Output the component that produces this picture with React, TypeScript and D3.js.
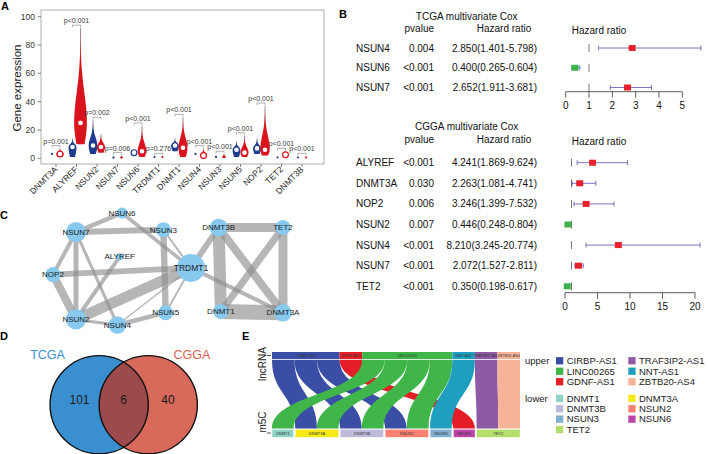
import React from "react";
import * as d3 from "d3";

const FONT = "Arial, 'Liberation Sans', Helvetica, sans-serif";

// ---------- Panel A: expression violins (normal vs tumour)
const genesA = ["DNMT3A", "ALYREF", "NSUN2", "NSUN7", "NSUN6", "TRDMT1", "DNMT1", "NSUN4", "NSUN3", "NSUN5", "NOP2", "TET2", "DNMT3B"];
const normalMin = [2.5, 1, 3, 0, 2, 0.3, 5, 2.5, 0.5, 1, 3, 0.2, 0.2];
const normalMedian = [3, 8, 9, 0.5, 4, 1, 9, 3, 1, 6, 7, 0.5, 0.5];
const normalMax = [4, 14, 27, 1.5, 6, 1.5, 14, 4, 2, 12, 14, 1.5, 1.5];
const tumorMin = [1, 10, 4, 0, 1, 0.3, 1, 1, 0.3, 1, 2, 1, 0.2];
const tumorMedian = [3, 25, 8, 0.5, 5, 1, 7.5, 2, 1, 4, 6, 2.5, 0.5];
const tumorMax = [7, 92, 17, 2, 23, 1.5, 29, 7, 3, 16, 37, 5, 1.5];
const pLabels = ["p=0.001", "p<0.001", "p=0.002", "p=0.006", "p<0.001", "p=0.276", "p<0.001", "p<0.001", "p<0.001", "p<0.001", "p<0.001", "p<0.001", "p<0.001"];

// ---------- Panel B: multivariate Cox
const tcgaGenes = ["NSUN4", "NSUN6", "NSUN7"];
const tcgaP = ["0.004", "<0.001", "<0.001"];
const tcgaHR = [2.85, 0.4, 2.652];
const tcgaLow = [1.401, 0.265, 1.911];
const tcgaHigh = [5.798, 0.604, 3.681];
const cggaGenes = ["ALYREF", "DNMT3A", "NOP2", "NSUN2", "NSUN4", "NSUN7", "TET2"];
const cggaP = ["<0.001", "0.030", "0.006", "0.007", "<0.001", "<0.001", "<0.001"];
const cggaHR = [4.241, 2.263, 3.246, 0.446, 8.21, 2.072, 0.35];
const cggaLow = [1.869, 1.081, 1.399, 0.248, 3.245, 1.527, 0.198];
const cggaHigh = [9.624, 4.741, 7.532, 0.804, 20.774, 2.811, 0.617];

// ---------- Panel C: co-expression network
const netNodes = ["NSUN6", "NSUN7", "NSUN3", "ALYREF", "TRDMT1", "NOP2", "NSUN2", "NSUN5", "NSUN4", "DNMT3B", "TET2", "DNMT1", "DNMT3A"];
const netLayoutX = [0.3, 0.1, 0.48, 0.29, 0.6, 0.0, 0.1, 0.49, 0.28, 0.72, 1.0, 0.73, 1.0];
const netLayoutY = [0.0, 0.17, 0.15, 0.39, 0.49, 0.55, 0.95, 0.89, 1.0, 0.13, 0.13, 0.88, 0.89];
const edgeFrom = ["NSUN7", "NSUN7", "NSUN6", "NSUN3", "NSUN3", "NSUN7", "NSUN7", "NSUN7", "NOP2", "NOP2", "ALYREF", "NSUN2", "NSUN2", "NSUN4", "NSUN4", "NSUN5", "TRDMT1", "TRDMT1", "DNMT3B", "DNMT3B", "DNMT3B", "TET2", "TET2", "DNMT1"];
const edgeTo = ["NSUN6", "NSUN3", "TRDMT1", "TRDMT1", "NSUN5", "NOP2", "NSUN2", "NSUN4", "TRDMT1", "NSUN2", "NSUN2", "TRDMT1", "NSUN4", "TRDMT1", "NSUN5", "TRDMT1", "DNMT3B", "DNMT3A", "TET2", "DNMT1", "DNMT3A", "DNMT1", "DNMT3A", "DNMT3A"];
const edgeWeight = [0.28, 0.38, 0.22, 0.12, 0.4, 0.25, 0.31, 0.19, 0.37, 0.5, 0.25, 0.68, 0.19, 0.08, 0.28, 0.12, 0.37, 0.25, 0.56, 0.75, 0.5, 0.44, 0.56, 0.94];

// ---------- Panel D: Venn
const vennSets = ["TCGA", "CGGA"];
const vennCounts = [101, 6, 40];

// ---------- Panel E: alluvial lncRNA -> m5C
const upperNodes = ["CIRBP-AS1", "GDNF-AS1", "LINC00265", "NNT-AS1", "TRAF3IP2-AS1", "ZBTB20-AS4"];
const upperColors = ["#3b4ea5", "#e41e26", "#3fb54a", "#1f9fc0", "#8f5aa5", "#f7b398"];
const lowerNodes = ["DNMT1", "DNMT3A", "DNMT3B", "NSUN2", "NSUN3", "NSUN6", "TET2"];
const lowerColors = ["#8dd3c7", "#f5ea14", "#bebada", "#fb8072", "#80b1d3", "#bc44a6", "#b3de69"];
const linkSource = ["CIRBP-AS1", "CIRBP-AS1", "CIRBP-AS1", "GDNF-AS1", "LINC00265", "LINC00265", "LINC00265", "LINC00265", "NNT-AS1", "TRAF3IP2-AS1", "ZBTB20-AS4"];
const linkTarget = ["DNMT3A", "DNMT3B", "NSUN2", "NSUN6", "DNMT1", "DNMT3A", "DNMT3B", "NSUN2", "NSUN3", "TET2", "TET2"];
const legendUpper = ["CIRBP-AS1", "TRAF3IP2-AS1", "LINC00265", "NNT-AS1", "GDNF-AS1", "ZBTB20-AS4"];

const NORMAL = "#1d3c8f";
const TUMOR = "#d9141d";

// ---------------------------------------------------------------- A
const yA = d3.scaleLinear().domain([0, 100]).range([158.3, 16.7]);
const xA = d3.scalePoint<string>().domain(genesA).range([56, 302]);

function violinPath(cx: number, lo: number, med: number, hi: number) {
  const spread = hi - lo;
  const half = (3.5 + spread * 0.035) * Math.min(1, spread / 5);
  const sLow = Math.max((med - lo) * 1.5, 0.05);
  const sHigh = Math.max((hi - med) * 0.45, 0.05);
  const width = (v: number) =>
    v < med
      ? half * Math.exp(-(((med - v) / sLow) ** 2))
      : half * Math.exp(-(((v - med) / sHigh) ** 2));
  const steps = d3.range(0, 41).map((i) => lo + (spread * i) / 40);
  return (
    d3
      .area<number>()
      .y((v) => yA(v))
      .x0((v) => cx - width(v))
      .x1((v) => cx + width(v))
      .curve(d3.curveBasis)(steps) ?? ""
  );
}

function Violin({ cx, lo, med, hi, color }: { cx: number; lo: number; med: number; hi: number; color: string }) {
  const big = hi - lo >= 3;
  return (
    <g>
      <line x1={cx} x2={cx} y1={yA(lo)} y2={yA(hi)} stroke="#444" strokeWidth={0.5} />
      <path d={violinPath(cx, lo, med, hi)} fill={color} />
      {big ? (
        <circle cx={cx} cy={yA(med)} r={2.9} fill="#fff" stroke={color} strokeWidth={1.2} />
      ) : (
        <circle cx={cx} cy={yA(med)} r={1} fill={color} opacity={0.8} />
      )}
    </g>
  );
}

function PanelA() {
  return (
    <g>
      <text x={1} y={9.5} fontSize={11} fontWeight="bold">A</text>
      <rect x={41} y={10} width={283} height={154} fill="none" stroke="#999" strokeWidth={0.8} />
      {yA.ticks(5).map((t) => (
        <g key={t}>
          <line x1={37.5} x2={41} y1={yA(t)} y2={yA(t)} stroke="#666" strokeWidth={0.8} />
          <text x={35} y={yA(t)} dy="0.35em" textAnchor="end" fontSize={8.5} fill="#333">{t}</text>
        </g>
      ))}
      <text transform="translate(21,88) rotate(-90)" textAnchor="middle" fontSize={11.5} fill="#222">
        Gene expression
      </text>
      {genesA.map((g, i) => {
        const cx = xA(g)!;
        const b = Math.max(normalMax[i], tumorMax[i]) + 2;
        const yb = yA(b);
        return (
          <g key={g}>
            <Violin cx={cx - 4} lo={normalMin[i]} med={normalMedian[i]} hi={normalMax[i]} color={NORMAL} />
            <Violin cx={cx + 4} lo={tumorMin[i]} med={tumorMedian[i]} hi={tumorMax[i]} color={TUMOR} />
            <path d={`M${cx - 4},${yb + 2}V${yb}H${cx + 4}V${yb + 2}`} fill="none" stroke="#777" strokeWidth={0.6} />
            <text x={cx} y={yb - 2} textAnchor="middle" fontSize={7} fill="#3a3a3a">{pLabels[i]}</text>
            <line x1={cx} x2={cx} y1={164} y2={167} stroke="#666" strokeWidth={0.8} />
            <text transform={`translate(${cx + 2},170) rotate(-45)`} textAnchor="end" fontSize={8.5} fill="#222">{g}</text>
          </g>
        );
      })}
    </g>
  );
}

// ---------------------------------------------------------------- B
interface ForestProps {
  title: string;
  genes: string[];
  pv: string[];
  hr: number[];
  lo: number[];
  hi: number[];
  rows: [number, number];
  titleY: number;
  domainMax: number;
  xRange: [number, number];
  axisY: number;
  nTicks: number;
}

function Forest({ title, genes, pv, hr, lo, hi, rows, titleY, domainMax, xRange, axisY, nTicks }: ForestProps) {
  const rowY = d3.scalePoint<string>().domain(genes).range(rows);
  const x = d3.scaleLinear().domain([0, domainMax]).range(xRange);
  const step = rowY.step();
  const headY = titleY + 12.5;
  const first = rowY(genes[0])!;
  return (
    <g fontSize={10} fill="#111">
      <text x={466.7} y={titleY} textAnchor="middle">{title}</text>
      <text x={434} y={headY} textAnchor="end">pvalue</text>
      <text x={504} y={headY} textAnchor="middle">Hazard ratio</text>
      <text x={599} y={headY + 2} textAnchor="middle">Hazard ratio</text>
      <line x1={x(1)} x2={x(1)} y1={first - 4} y2={axisY} stroke="#555" strokeWidth={0.8} strokeDasharray={`8,${step - 8}`} />
      {genes.map((g, i) => {
        const cy = rowY(g)!;
        return (
          <g key={g}>
            <text x={356} y={cy} dy="0.35em">{g}</text>
            <text x={434} y={cy} dy="0.35em" textAnchor="end">{pv[i]}</text>
            <text x={537} y={cy} dy="0.35em" textAnchor="end">
              {`${hr[i].toFixed(3)}(${lo[i].toFixed(3)}-${hi[i].toFixed(3)})`}
            </text>
            <path
              d={`M${x(lo[i])},${cy - 2.5}V${cy + 2.5}M${x(lo[i])},${cy}H${x(hi[i])}M${x(hi[i])},${cy - 2.5}V${cy + 2.5}`}
              stroke="#5454b0"
              strokeWidth={0.8}
              fill="none"
            />
            <rect x={x(hr[i]) - 3.5} y={cy - 3} width={7} height={6} fill={hr[i] > 1 ? "#e8202a" : "#3cb44b"} />
          </g>
        );
      })}
      <line x1={xRange[0]} x2={xRange[1]} y1={axisY} y2={axisY} stroke="#333" strokeWidth={0.8} />
      {x.ticks(nTicks).map((t) => (
        <g key={t}>
          <line x1={x(t)} x2={x(t)} y1={axisY} y2={axisY + 6} stroke="#333" strokeWidth={0.8} />
          <text x={x(t)} y={axisY + 17.5} textAnchor="middle">{t}</text>
        </g>
      ))}
    </g>
  );
}

function PanelB() {
  return (
    <g>
      <text x={339} y={18.3} fontSize={11} fontWeight="bold">B</text>
      <Forest title="TCGA multivariate Cox" genes={tcgaGenes} pv={tcgaP} hr={tcgaHR} lo={tcgaLow} hi={tcgaHigh}
        rows={[48, 87.5]} titleY={19.5} domainMax={5} xRange={[565.7, 682.3]} axisY={91.7} nTicks={5} />
      <Forest title="CGGA multivariate Cox" genes={cggaGenes} pv={cggaP} hr={cggaHR} lo={cggaLow} hi={cggaHigh}
        rows={[162.7, 286.3]} titleY={130.3} domainMax={20} xRange={[565, 695]} axisY={292.7} nTicks={4} />
    </g>
  );
}

// ---------------------------------------------------------------- C
function PanelC() {
  const nx = d3.scaleLinear().domain([0, 1]).range([53, 283]);
  const ny = d3.scaleLinear().domain([0, 1]).range([213, 325]);
  const pos = new Map(netNodes.map((n, i) => [n, [nx(netLayoutX[i]), ny(netLayoutY[i])]]));
  const degree = new Map(netNodes.map((n) => [n, 0]));
  edgeFrom.forEach((s, i) => {
    degree.set(s, degree.get(s)! + 1);
    degree.set(edgeTo[i], degree.get(edgeTo[i])! + 1);
  });
  const rScale = d3.scaleLinear().domain([1, 3, 8]).range([3.5, 7.5, 14]);
  const wScale = d3.scaleLinear().domain([0, 1]).range([0, 16]);
  return (
    <g>
      <text x={0} y={218.5} fontSize={11} fontWeight="bold">C</text>
      {edgeFrom.map((s, i) => {
        const a = pos.get(s)!;
        const b = pos.get(edgeTo[i])!;
        return (
          <line key={i} x1={a[0]} y1={a[1]} x2={b[0]} y2={b[1]} stroke="#8f8f8f" strokeOpacity={0.65} strokeWidth={wScale(edgeWeight[i])} />
        );
      })}
      {netNodes.map((n) => {
        const p = pos.get(n)!;
        return (
          <g key={n}>
            <circle cx={p[0]} cy={p[1]} r={rScale(degree.get(n)!)} fill="#87c9ef" />
            <text x={p[0]} y={p[1]} dy="0.35em" textAnchor="middle" fontSize={n === "TRDMT1" ? 8.5 : 8} fill="#1a1a1a">{n}</text>
          </g>
        );
      })}
    </g>
  );
}

// ---------------------------------------------------------------- D
function PanelD() {
  const vx = d3.scaleLinear().domain([-1, 1]).range([74.6, 172.8]);
  const cy = 404.7;
  const r = 49.1;
  const lx = vx(-0.5);
  const rx = vx(0.5);
  return (
    <g>
      <text x={0} y={340} fontSize={11} fontWeight="bold">D</text>
      <defs>
        <clipPath id="vennLeft">
          <circle cx={lx} cy={cy} r={r} />
        </clipPath>
      </defs>
      <circle cx={lx} cy={cy} r={r} fill="#3a8fd0" />
      <circle cx={rx} cy={cy} r={r} fill="#d8695b" />
      <circle cx={rx} cy={cy} r={r} fill="#9d4a4c" clipPath="url(#vennLeft)" />
      <circle cx={lx} cy={cy} r={r} fill="none" stroke="#111" strokeWidth={1.4} />
      <circle cx={rx} cy={cy} r={r} fill="none" stroke="#111" strokeWidth={1.4} />
      <text x={47.5} y={355} dy="0.35em" textAnchor="middle" fontSize={12.5} fill="#3a8fd0">{vennSets[0]}</text>
      <text x={192} y={355} dy="0.35em" textAnchor="middle" fontSize={12.5} fill="#e0604f">{vennSets[1]}</text>
      {vennCounts.map((c, i) => (
        <text key={i} x={vx(-0.9 + i * 0.9)} y={400} dy="0.35em" textAnchor="middle" fontSize={12} fill="#1a1a1a">{c}</text>
      ))}
    </g>
  );
}

// ---------------------------------------------------------------- E
function PanelE() {
  const left = 272;
  const right = 520;
  const gap = 1.6;
  const total = linkSource.length;
  const xu = d3.scaleLinear().domain([0, total]).range([left, right]);
  const unit = (right - left - gap * (lowerNodes.length - 1)) / total;
  const xl = (u: number, idx: number) => left + u * unit + gap * idx;

  const upCount = upperNodes.map((n) => linkSource.filter((s) => s === n).length);
  const lowCount = lowerNodes.map((n) => linkTarget.filter((t) => t === n).length);
  const upStart = d3.cumsum([0, ...upCount]);
  const lowStart = d3.cumsum([0, ...lowCount]);

  const links = linkSource.map((s, i) => ({ s, t: linkTarget[i], si: upperNodes.indexOf(s), ti: lowerNodes.indexOf(linkTarget[i]) }));
  const topOff = links.map((l) => links.filter((o) => o.si === l.si && o.ti < l.ti).length);
  const botOff = links.map((l) => links.filter((o) => o.ti === l.ti && o.si < l.si).length);

  const yTop = 360;
  const yBot = 428.6;
  const yMid = (yTop + yBot) / 2;

  const order = d3.range(links.length).sort((a, b) => links[a].si - links[b].si);

  return (
    <g>
      <text x={242} y={340} fontSize={11} fontWeight="bold">E</text>
      <text transform="translate(265.5,364) rotate(-90)" textAnchor="middle" fontSize={10} fill="#222">lncRNA</text>
      <text transform="translate(265.5,422) rotate(-90)" textAnchor="middle" fontSize={10} fill="#222">m5C</text>
      <line x1={267} x2={271} y1={355.5} y2={355.5} stroke="#333" strokeWidth={0.8} />
      <line x1={267} x2={271} y1={433} y2={433} stroke="#333" strokeWidth={0.8} />
      {order.map((i) => {
        const l = links[i];
        const t0 = xu(upStart[l.si] + topOff[i]);
        const t1 = xu(upStart[l.si] + topOff[i] + 1);
        const b0 = xl(lowStart[l.ti] + botOff[i], l.ti);
        const b1 = xl(lowStart[l.ti] + botOff[i] + 1, l.ti);
        const p = d3.path();
        p.moveTo(t0, yTop);
        p.bezierCurveTo(t0, yMid, b0, yMid, b0, yBot);
        p.lineTo(b1, yBot);
        p.bezierCurveTo(b1, yMid, t1, yMid, t1, yTop);
        p.closePath();
        return <path key={i} d={p.toString()} fill={upperColors[l.si]} />;
      })}
      {upperNodes.map((n, i) => (
        <g key={n}>
          <rect x={xu(upStart[i])} y={352} width={xu(upStart[i + 1]) - xu(upStart[i])} height={7.2} fill={upperColors[i]} />
          <text x={(xu(upStart[i]) + xu(upStart[i + 1])) / 2} y={355.6} dy="0.35em" textAnchor="middle" fontSize={3.8} fill="#333">{n}</text>
        </g>
      ))}
      {lowerNodes.map((n, i) => {
        const x0 = xl(lowStart[i], i);
        const x1 = xl(lowStart[i + 1], i);
        return (
          <g key={n}>
            <rect x={x0} y={429.3} width={x1 - x0} height={8} fill={lowerColors[i]} stroke="#fff" strokeWidth={0.4} />
            <text x={(x0 + x1) / 2} y={433.3} dy="0.35em" textAnchor="middle" fontSize={4} fill="#333">{n}</text>
          </g>
        );
      })}
      <g fontSize={9.5} fill="#222">
        <text x={525} y={360.7} dy="0.35em">upper</text>
        {legendUpper.map((n, i) => {
          const col = i % 2;
          const row = Math.floor(i / 2);
          const sx = col === 0 ? 556 : 628.3;
          const sy = 360.7 + row * 10.5;
          return (
            <g key={n}>
              <rect x={sx} y={sy - 3.6} width={7.3} height={7.3} fill={upperColors[upperNodes.indexOf(n)]} />
              <text x={sx + 10.7} y={sy} dy="0.35em">{n}</text>
            </g>
          );
        })}
        <text x={525} y={398.3} dy="0.35em">lower</text>
        {lowerNodes.map((n, i) => {
          const col = i % 2;
          const row = Math.floor(i / 2);
          const sx = col === 0 ? 556 : 628.3;
          const sy = 398.3 + row * 10.4;
          return (
            <g key={n}>
              <rect x={sx} y={sy - 3.6} width={7.3} height={7.3} fill={lowerColors[i]} />
              <text x={sx + 10.7} y={sy} dy="0.35em">{n}</text>
            </g>
          );
        })}
      </g>
    </g>
  );
}

export default function App() {
  return (
    <div style={{ position: "absolute", left: 0, top: 0 }}>
      <svg width={708} height={454} style={{ display: "block", fontFamily: FONT }}>
        <rect width={708} height={454} fill="#fff" />
        <PanelA />
        <PanelB />
        <PanelC />
        <PanelD />
        <PanelE />
      </svg>
    </div>
  );
}
